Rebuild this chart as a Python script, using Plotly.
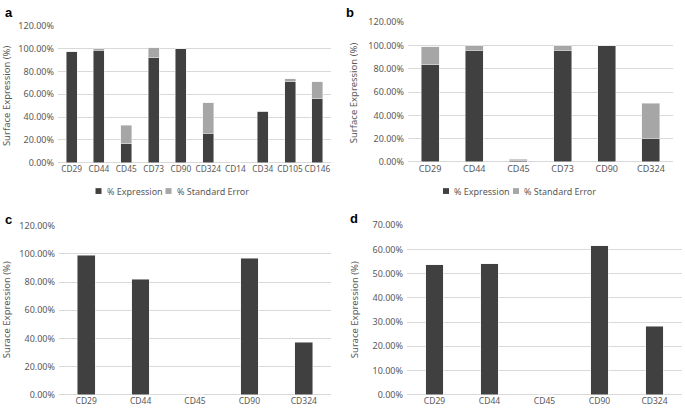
import plotly.graph_objects as go

# ---- data ----
a_markers = ["CD29", "CD44", "CD45", "CD73", "CD90", "CD324", "CD14", "CD34", "CD105", "CD146"]
a_expression = [97.5, 98.5, 16.5, 92.0, 100.0, 26.0, 0.0, 45.0, 71.0, 56.0]
a_std_error = [0.0, 1.5, 16.5, 9.0, 0.0, 26.5, 0.0, 0.0, 2.5, 15.0]

b_markers = ["CD29", "CD44", "CD45", "CD73", "CD90", "CD324"]
b_expression = [83.5, 96.0, 1.0, 96.0, 100.0, 20.5]
b_std_error = [15.5, 4.0, 1.5, 4.0, 0.0, 30.0]

c_markers = ["CD29", "CD44", "CD45", "CD90", "CD324"]
c_expression = [99.0, 82.0, 0.0, 97.0, 37.5]

d_markers = ["CD29", "CD44", "CD45", "CD90", "CD324"]
d_expression = [53.7, 54.0, 0.0, 61.5, 28.2]

legend_labels = ["% Expression", "% Standard Error"]

W, H = 685, 415
DARK = "#404040"
LIGHT = "#a6a6a6"
GRID = "#d9d9d9"
TXT = "#595959"
FONT = "Noto Sans"

def px_x(p):
    return p / W

def px_y(p):
    return 1 - p / H

fig = go.Figure()
LINE = dict(color="#f0f0f0", width=0.5)

# panel a
fig.add_trace(go.Bar(x=a_markers, y=a_expression, name=legend_labels[0], marker_color=DARK,
                     width=0.4, xaxis="x", yaxis="y", marker_line=LINE))
fig.add_trace(go.Bar(x=a_markers, y=a_std_error, name=legend_labels[1], marker_color=LIGHT,
                     width=0.4, xaxis="x", yaxis="y", marker_line=LINE))
# panel b
fig.add_trace(go.Bar(x=b_markers, y=b_expression, name=legend_labels[0], marker_color=DARK,
                     width=0.41, xaxis="x2", yaxis="y2", marker_line=LINE))
fig.add_trace(go.Bar(x=b_markers, y=b_std_error, name=legend_labels[1], marker_color=LIGHT,
                     width=0.41, xaxis="x2", yaxis="y2", marker_line=LINE))
# panel c
fig.add_trace(go.Bar(x=c_markers, y=c_expression, marker_color=DARK, width=0.325,
                     xaxis="x3", yaxis="y3", marker_line=LINE))
# panel d
fig.add_trace(go.Bar(x=d_markers, y=d_expression, marker_color=DARK, width=0.315,
                     xaxis="x4", yaxis="y4", marker_line=LINE))

def xax(domain, anchor, size=9):
    return dict(domain=domain, anchor=anchor, type="category", showgrid=False,
                showline=False, zeroline=False, ticks="", tickangle=0,
                tickfont=dict(family=FONT, size=size, color=TXT), fixedrange=True)

def yax(domain, anchor, rng, dtick):
    return dict(domain=domain, anchor=anchor, range=rng, dtick=dtick,
                tickformat=".2f", ticksuffix="%", showgrid=True, gridcolor=GRID,
                gridwidth=1, zeroline=True, zerolinecolor=GRID, zerolinewidth=1,
                showline=False, ticks="", ticklabelstandoff=3,
                tickfont=dict(family=FONT, size=9, color=TXT), fixedrange=True)

layout = dict(
    width=W, height=H, margin=dict(l=0, r=0, t=0, b=0),
    paper_bgcolor="white", plot_bgcolor="white",
    barmode="stack", showlegend=False,
    font=dict(family=FONT, color=TXT),
    xaxis=xax([px_x(58), px_x(331)], "y", size=8.3),
    yaxis=yax([px_y(160.7), px_y(19.5)], "x", [0, 120], 20),
    xaxis2=xax([px_x(408), px_x(673)], "y2"),
    yaxis2=yax([px_y(160), px_y(15.7)], "x2", [0, 120], 20),
    xaxis3=xax([px_x(59), px_x(331)], "y3", size=8.5),
    yaxis3=yax([px_y(400.5), px_y(225.7)], "x3", [0, 120], 20),
    xaxis4=xax([px_x(407), px_x(682)], "y4", size=8.5),
    yaxis4=yax([px_y(400.3), px_y(225.3)], "x4", [0, 70], 10),
)
fig.update_layout(**layout)

anns = []
shapes = []
for letter, x, y in [("a", 3, 6), ("b", 344, 6), ("c", 3, 219), ("d", 348, 218)]:
    anns.append(dict(text=f"<b>{letter}</b>", x=px_x(x), y=px_y(y), xref="paper", yref="paper",
                     xanchor="left", yanchor="middle", showarrow=False,
                     font=dict(family="Liberation Sans", size=13, color="black")))
for text, x, y in [("Surface Expression (%)", 6, 92), ("Surface Expression (%)", 353, 88),
                   ("Surace Expression (%)", 6, 313), ("Surace Expression (%)", 354, 313)]:
    anns.append(dict(text=text, x=px_x(x), y=px_y(y), xref="paper", yref="paper",
                     xanchor="center", yanchor="middle", textangle=-90, showarrow=False,
                     font=dict(family=FONT, size=9.5, color=TXT)))

# legends (key squares + labels) for panels a and b
legend_rows = [
    [(95.5, DARK, legend_labels[0]), (165.5, LIGHT, legend_labels[1])],
    [(443, DARK, legend_labels[0]), (513, LIGHT, legend_labels[1])],
]
ly = 190
for row in legend_rows:
    for x0, col, lab in row:
        shapes.append(dict(type="rect", xref="paper", yref="paper",
                           x0=px_x(x0), x1=px_x(x0 + 6), y0=px_y(ly + 3), y1=px_y(ly - 3),
                           fillcolor=col, line=dict(width=0)))
        anns.append(dict(text=lab, x=px_x(x0 + 9), y=px_y(ly), xref="paper", yref="paper",
                         xanchor="left", yanchor="middle", showarrow=False,
                         font=dict(family=FONT, size=9, color=TXT)))

fig.update_layout(annotations=anns, shapes=shapes)

fig.write_html(
    "out.html",
    config={"displayModeBar": False, "staticPlot": True},
    post_script="document.body.style.margin='0';document.body.style.padding='0';"
                "document.documentElement.style.overflow='hidden';",
)
